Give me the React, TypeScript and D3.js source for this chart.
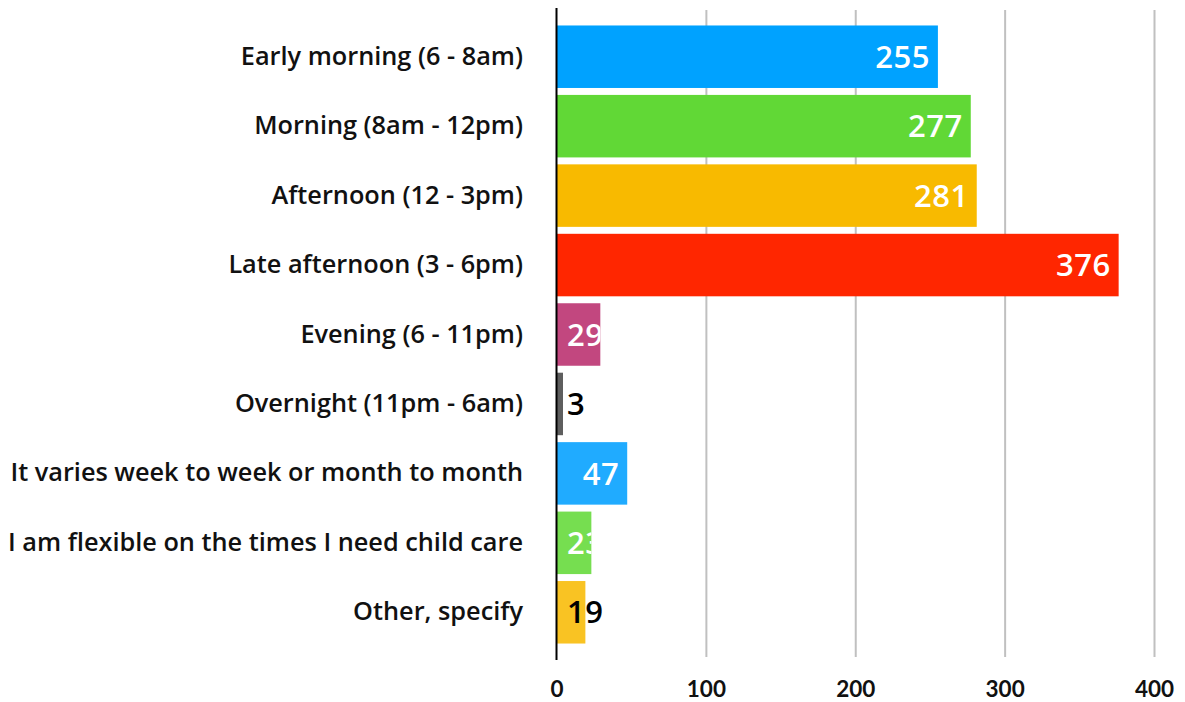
import * as d3 from "d3";

const categories = [
  "Early morning (6 - 8am)",
  "Morning (8am - 12pm)",
  "Afternoon (12 - 3pm)",
  "Late afternoon (3 - 6pm)",
  "Evening (6 - 11pm)",
  "Overnight (11pm - 6am)",
  "It varies week to week or month to month",
  "I am flexible on the times I need child care",
  "Other, specify",
];
const values = [255, 277, 281, 376, 29, 3, 47, 23, 19];
const xTickValues = [0, 100, 200, 300, 400];

const barColors = [
  "#00A2FF", "#61D836", "#F8BA00", "#FF2600", "#C2477F",
  "#5E5E5E", "#20ABFF", "#76DE50", "#F9C323",
];
const labelColors = [
  "#fff", "#fff", "#fff", "#fff", "#fff", "#000", "#fff", "#fff", "#000",
];

export default function App() {
  const width = 1185;
  const height = 702;
  const font = "Lato, 'Open Sans', sans-serif";
  const openSans = "'Open Sans', Lato, sans-serif";

  const x = d3.scaleLinear().domain([0, 400]).range([557, 1154.5]);
  const y = d3.scaleBand().domain(categories).range([22, 647]).paddingInner(0.1).paddingOuter(0.05);

  const valueFont = 31;
  const digitW = valueFont * 0.58;

  return (
    <svg width={width} height={height} style={{ position: "absolute", left: 0, top: 0, fontFamily: font }}>
      <defs>
        {categories.map((c, i) => (
          <clipPath id={`clip${i}`} key={c}>
            <rect x={x(0)} y={y(c)} width={x(values[i]) - x(0)} height={y.bandwidth()} />
          </clipPath>
        ))}
      </defs>

      {/* gridlines */}
      {xTickValues.filter((t) => t > 0).map((t) => (
        <line key={t} x1={x(t)} x2={x(t)} y1={10} y2={657} stroke="#C0C0C0" strokeWidth={2} />
      ))}

      {/* bars + labels */}
      {categories.map((c, i) => {
        const v = values[i];
        const barEnd = x(v);
        const textW = String(v).length * digitW;
        const fits = barEnd - x(0) > textW + 18;
        const cy = (y(c) as number) + y.bandwidth() / 2;
        const white = labelColors[i] === "#fff";
        return (
          <g key={c}>
            <rect x={x(0)} y={y(c)} width={Math.max(barEnd - x(0), 6)} height={y.bandwidth()} fill={barColors[i]} />
            <text
              x={fits ? barEnd - 8 : x(0) + 10}
              y={cy}
              dy="0.36em"
              textAnchor={fits ? "end" : "start"}
              fontSize={valueFont}
              fontWeight={600}
              fill={labelColors[i]}
              clipPath={white ? `url(#clip${i})` : undefined}
              style={{ fontFamily: openSans, letterSpacing: "0.5px" }}
            >
              {v}
            </text>
            <text
              x={523}
              y={cy - 1}
              dy="0.36em"
              textAnchor="end"
              fontSize={25.3}
              fontWeight={600}
              fill="#111"
              style={{ fontFamily: openSans }}
            >
              {c}
            </text>
          </g>
        );
      })}

      {/* axis */}
      <line x1={556.5} x2={556.5} y1={8} y2={660} stroke="#000" strokeWidth={2} />
      {xTickValues.map((t) => (
        <text key={t} x={x(t)} y={697} textAnchor="middle" fontSize={22.5} fontWeight={700} fill="#111">
          {t}
        </text>
      ))}
    </svg>
  );
}
